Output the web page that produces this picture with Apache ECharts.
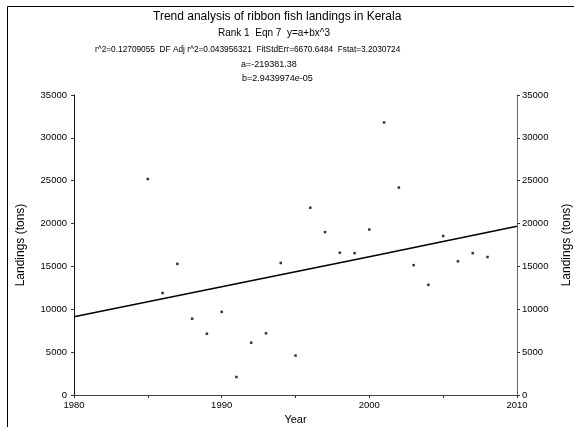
<!DOCTYPE html>
<html>
<head>
<meta charset="utf-8">
<script src="https://cdn.jsdelivr.net/npm/echarts@6/dist/echarts.min.js"></script>
<style>
  html, body { margin: 0; padding: 0; background: #fff; }
  #chart { width: 574px; height: 427px; }
</style>
</head>
<body>
<div id="chart"></div>
<script>
// observed landings (tons) by year
const years = [1985, 1986, 1987, 1988, 1989, 1990, 1991, 1992, 1993, 1994, 1995, 1996,
  1997, 1998, 1999, 2000, 2001, 2002, 2003, 2004, 2005, 2006, 2007, 2008];
const landings = [25200, 11900, 15300, 8900, 7150, 9700, 2100, 6100, 7200, 15400, 4600, 21850,
  19000, 16600, 16550, 19300, 31800, 24200, 15150, 12850, 18550, 15600, 16550, 16100];

// fitted trend
const trendYears = [1980, 1990, 2000, 2010];
const trendValues = [9140, 12620, 16140, 19690];

const yTicks = [0, 35000, 5000]; // min, max, step

const font = "'Liberation Sans', Arial, sans-serif";

let myChart = echarts.init(document.getElementById("chart"));

let points = years.map((y, i) => [y, landings[i]]);
let trend = trendYears.map((y, i) => [y, trendValues[i]]);

let yAxisBase = {
  type: "value",
  min: yTicks[0],
  max: yTicks[1],
  interval: yTicks[2],
  splitLine: { show: false },
  axisTick: { show: true, length: 3, lineStyle: { color: "#333" } },
  name: "Landings (tons)",
  nameLocation: "middle",
  nameTextStyle: { fontSize: 12, color: "#000", fontFamily: font },
};

function yLabel(margin) {
  return {
    fontSize: 9.5,
    color: "#000",
    fontFamily: font,
    margin: margin,
    formatter: (v) => String(v),
  };
}

let option = {
  animation: false,
  backgroundColor: "#fff",
  title: [
    { text: "Trend analysis of ribbon fish landings in Kerala", left: 148, top: 6,
      textStyle: { fontSize: 12, fontWeight: "normal", color: "#000", fontFamily: font } },
    { text: "Rank 1  Eqn 7  y=a+bx^3", left: 213, top: 23,
      textStyle: { fontSize: 10, fontWeight: "normal", color: "#000", fontFamily: font } },
    { text: "r^2=0.12709055  DF Adj r^2=0.043956321  FitStdErr=6670.6484  Fstat=3.2030724", left: 90, top: 41,
      textStyle: { fontSize: 8.3, fontWeight: "normal", color: "#000", fontFamily: font } },
    { text: "a=-219381.38", left: 236, top: 55,
      textStyle: { fontSize: 9, fontWeight: "normal", color: "#000", fontFamily: font } },
    { text: "b=2.9439974e-05", left: 237, top: 69,
      textStyle: { fontSize: 9, fontWeight: "normal", color: "#000", fontFamily: font } },
  ],
  graphic: [
    {
      type: "rect",
      shape: { x: 7.5, y: 6.5, width: 620, height: 460 },
      style: { fill: "none", stroke: "#000", lineWidth: 1 },
      silent: true,
    },
  ],
  grid: { left: 74, right: 57, top: 95, bottom: 32, containLabel: false, outerBoundsMode: "none" },
  xAxis: [
    {
      type: "value",
      position: "bottom",
      min: 1980,
      max: 2010,
      interval: 5,
      splitLine: { show: false },
      axisLine: { lineStyle: { color: "#555" } },
      axisTick: { length: 3, lineStyle: { color: "#333" } },
      axisLabel: {
        fontSize: 9.5,
        color: "#000",
        fontFamily: font,
        margin: 5,
        formatter: (v) => (v % 10 === 0 ? String(v) : ""),
      },
      name: "Year",
      nameLocation: "middle",
      nameGap: 19,
      nameTextStyle: { fontSize: 11, color: "#000", fontFamily: font },
    },
    {
      type: "value",
      position: "top",
      min: 1980,
      max: 2010,
      splitLine: { show: false },
      axisLine: { show: true, lineStyle: { color: "#444" } },
      axisTick: { show: false },
      axisLabel: { show: false },
    },
  ],
  yAxis: [
    Object.assign({}, yAxisBase, {
      position: "left",
      nameGap: 47,
      axisLabel: yLabel(7),
      axisLine: { show: true, lineStyle: { color: "#111" } },
    }),
    Object.assign({}, yAxisBase, {
      position: "right",
      nameGap: 44,
      nameRotate: 90,
      axisLabel: yLabel(5),
      axisLine: { show: true, lineStyle: { color: "#666" } },
    }),
  ],
  series: [
    {
      type: "line",
      data: trend,
      showSymbol: false,
      lineStyle: { color: "#000", width: 1.5 },
      z: 2,
    },
    {
      type: "scatter",
      data: points,
      symbol: "rect",
      symbolSize: 2.5,
      itemStyle: { color: "#000" },
      z: 3,
    },
  ],
};
myChart.setOption(option);
</script>
</body>
</html>
